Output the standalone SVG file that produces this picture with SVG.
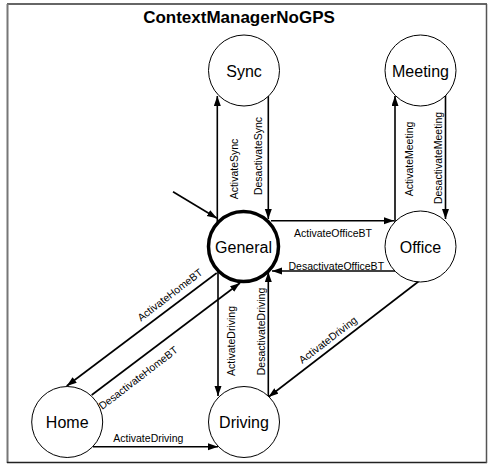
<svg xmlns="http://www.w3.org/2000/svg" width="489" height="465" viewBox="0 0 489 465">
<defs>
<marker id="arr" markerUnits="userSpaceOnUse" markerWidth="11" markerHeight="8" refX="10" refY="3.5" orient="auto">
<path d="M0,0 L10,3.5 L0,7 z" fill="#000"/>
</marker>
<style>
.st{fill:#fff;stroke:#000;stroke-width:1}
.init{fill:#fff;stroke:#000;stroke-width:3.5}
.nl{font-family:"Liberation Sans",Arial,sans-serif;font-size:16px;text-anchor:middle;fill:#000}
.el{font-family:"Liberation Sans",Arial,sans-serif;font-size:10.5px;text-anchor:middle;fill:#000}
.e{stroke:#000;stroke-width:1.6;fill:none;marker-end:url(#arr)}
.title{font-family:"Liberation Sans",Arial,sans-serif;font-size:17px;font-weight:bold;text-anchor:middle;fill:#000}
</style>
</defs>
<rect x="0" y="0" width="489" height="465" fill="#fff"/>
<g id="frame">
<line x1="7" y1="4" x2="487" y2="4" stroke="#333" stroke-width="1.5"/>
<line x1="7.5" y1="4" x2="7.5" y2="463" stroke="#777" stroke-width="2"/>
<line x1="7" y1="462.5" x2="487" y2="462.5" stroke="#222" stroke-width="1.5"/>
<line x1="486.5" y1="4" x2="486.5" y2="463" stroke="#555" stroke-width="1.5"/>
<text class="title" x="239" y="23">ContextManagerNoGPS</text>
</g>
<g id="connectors">
<line class="e" x1="217.3" y1="222" x2="217.3" y2="96"/>
<line class="e" x1="268.3" y1="95" x2="268.3" y2="219"/>
<line class="e" x1="395" y1="222" x2="395" y2="96"/>
<line class="e" x1="445.5" y1="95" x2="445.5" y2="219"/>
<line class="e" x1="271" y1="220.7" x2="394" y2="220.7"/>
<line class="e" x1="397" y1="271" x2="272" y2="271"/>
<line class="e" x1="216.7" y1="273" x2="66.7" y2="386"/>
<line class="e" x1="91.7" y1="395" x2="240" y2="283"/>
<line class="e" x1="218" y1="272" x2="218" y2="396"/>
<line class="e" x1="268.3" y1="397" x2="268.3" y2="272"/>
<line class="e" x1="418.5" y1="281.5" x2="268.5" y2="397"/>
<line class="e" x1="93" y1="446.7" x2="218" y2="446.7"/>
<line class="e" x1="173" y1="191.7" x2="217" y2="218.3"/>
<text class="el" transform="translate(238,169) rotate(-90)">ActivateSync</text>
<text class="el" transform="translate(262,156) rotate(-90)">DesactivateSync</text>
<text class="el" transform="translate(413,159) rotate(-90)">ActivateMeeting</text>
<text class="el" transform="translate(441.5,158) rotate(-90)">DesactivateMeeting</text>
<text class="el" transform="translate(235,341) rotate(-90)">ActivateDriving</text>
<text class="el" transform="translate(265,331.5) rotate(-90)">DesactivateDriving</text>
<text class="el" x="333" y="237">ActivateOfficeBT</text>
<text class="el" x="336.3" y="269.5">DesactivateOfficeBT</text>
<text class="el" x="148.3" y="442">ActivateDriving</text>
<text class="el" transform="translate(170,295) rotate(-37.5)" y="3.5">ActivateHomeBT</text>
<text class="el" transform="translate(138.3,378) rotate(-37.5)" y="3.5">DesactivateHomeBT</text>
<text class="el" transform="translate(328,340) rotate(-37.5)" y="3.5">ActivateDriving</text>
</g>
<g id="Sync"><circle class="st" cx="244" cy="70.5" r="35.5"/><text class="nl" x="244" y="76.5">Sync</text></g>
<g id="Meeting"><circle class="st" cx="420.5" cy="70.5" r="35.5"/><text class="nl" x="420.5" y="76.5">Meeting</text></g>
<g id="General"><circle class="init" cx="243.5" cy="246.5" r="35"/><text class="nl" x="243.5" y="252.5">General</text></g>
<g id="Office"><circle class="st" cx="420.5" cy="246.5" r="35.5"/><text class="nl" x="420.5" y="252.5">Office</text></g>
<g id="Home"><circle class="st" cx="67.2" cy="422" r="35.5"/><text class="nl" x="67.2" y="428">Home</text></g>
<g id="Driving"><circle class="st" cx="244" cy="422" r="35.5"/><text class="nl" x="244" y="428">Driving</text></g>
</svg>
